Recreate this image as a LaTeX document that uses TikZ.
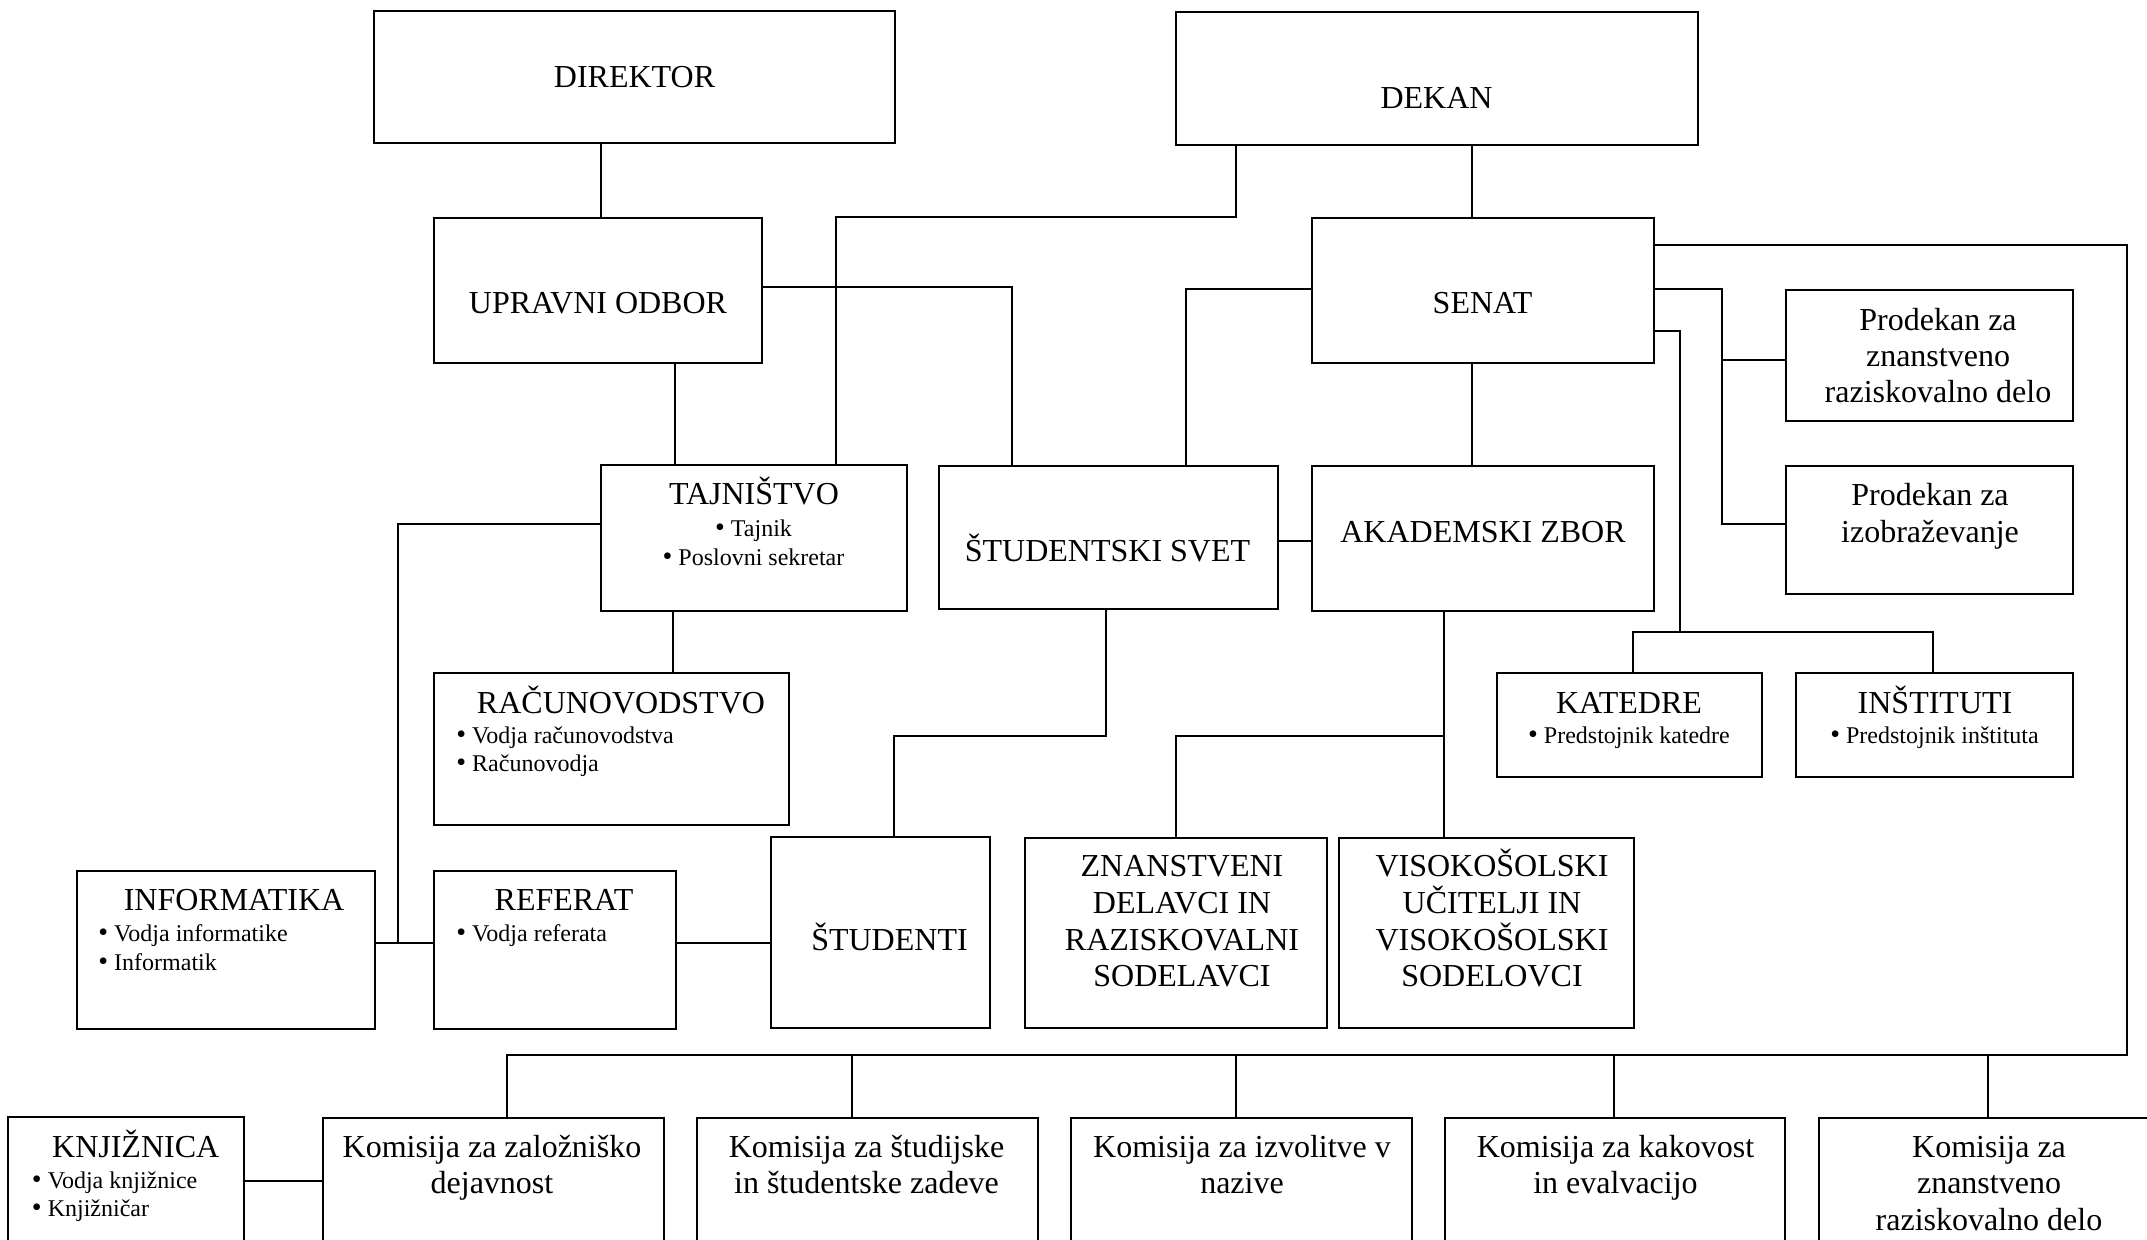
\documentclass[tikz,border=0pt]{standalone}
\usepackage{fontspec}
\setmainfont{Liberation Serif}
\usetikzlibrary{fit}
\tikzset{
 obx/.style={draw, line width=0.8pt, inner sep=0pt, outer sep=0pt},
 conn/.style={draw, line width=1pt},
 ttl/.style={anchor=base, inner sep=0pt, font=\fontsize{16}{18}\selectfont},
 itm/.style={anchor=base, inner sep=0pt, font=\fontsize{12}{14}\selectfont},
 itml/.style={itm, anchor=base west},
}
\newcommand\bul{{\fontsize{14}{14}\selectfont •}}
\begin{document}
\begin{tikzpicture}[x=0.5pt,y=-0.5pt]
\useasboundingbox (0,0) rectangle (2147,1239);
\clip (0,0) rectangle (2147,1239);
\fill[white] (0,0) rectangle (2147,1239);

% boxes
\node[obx, fit={(374,11)(895,143)}] (dir) {};
\node[obx, fit={(1176,12)(1698,145)}] (dek) {};
\node[obx, fit={(434,218)(762,363)}] (upr) {};
\node[obx, fit={(1312,218)(1654,363)}] (sen) {};
\node[obx, fit={(601,465)(907,611)}] (taj) {};
\node[obx, fit={(939,466)(1278,609)}] (ss) {};
\node[obx, fit={(1312,466)(1654,611)}] (az) {};
\node[obx, fit={(1786,290)(2073,421)}] (pd1) {};
\node[obx, fit={(1786,466)(2073,594)}] (pd2) {};
\node[obx, fit={(434,673)(789,825)}] (rac) {};
\node[obx, fit={(1497,673)(1762,777)}] (ka) {};
\node[obx, fit={(1796,673)(2073,777)}] (ins) {};
\node[obx, fit={(1025,838)(1327,1028)}] (zna) {};
\node[obx, fit={(1339,838)(1634,1028)}] (vis) {};
\node[obx, fit={(771,837)(990,1028)}] (stu) {};
\node[obx, fit={(77,871)(375,1029)}] (inf) {};
\node[obx, fit={(434,871)(676,1029)}] (ref) {};
\node[obx, fit={(8,1117)(244,1300)}] (knj) {};
\node[obx, fit={(323,1118)(664,1300)}] (k1) {};
\node[obx, fit={(697,1118)(1038,1300)}] (k2) {};
\node[obx, fit={(1071,1118)(1412,1300)}] (k3) {};
\node[obx, fit={(1445,1118)(1785,1300)}] (k4) {};
\node[obx, fit={(1819,1118)(2160,1300)}] (k5) {};

% texts
\node[ttl] (tdir) at (634.5,87.3) {DIREKTOR};
\node[ttl] (tdek) at (1436.5,108.7) {DEKAN};
\node[ttl] (tupr) at (598,313.3) {UPRAVNI ODBOR};
\node[ttl] (tsen) at (1482.5,313.3) {SENAT};
\node[ttl] (ttaj) at (754,504) {TAJNIŠTVO};
\node[itm] (ttaja) at (753.5,536) {\bul\ Tajnik};
\node[itm] (ttajb) at (753.5,565) {\bul\ Poslovni sekretar};
\node[ttl] (tss) at (1107.5,561) {ŠTUDENTSKI SVET};
\node[ttl] (taz) at (1483,542.7) {AKADEMSKI ZBOR};
\node[ttl] (tpd1a) at (1938,330) {Prodekan za};
\node[ttl] (tpd1b) at (1938,366.7) {znanstveno};
\node[ttl] (tpd1c) at (1938,402.7) {raziskovalno delo};
\node[ttl] (tpd2a) at (1930,505.7) {Prodekan za};
\node[ttl] (tpd2b) at (1930,542.3) {izobraževanje};
\node[ttl] (trac) at (621,713.3) {RAČUNOVODSTVO};
\node[itml] (traca) at (456,743.3) {\bul\ Vodja računovodstva};
\node[itml] (tracb) at (456,771.7) {\bul\ Računovodja};
\node[ttl] (tka) at (1629,713.3) {KATEDRE};
\node[itm] (tkaa) at (1629,743.3) {\bul\ Predstojnik katedre};
\node[ttl] (tins) at (1935,713.3) {INŠTITUTI};
\node[itm] (tinsa) at (1934.5,743.3) {\bul\ Predstojnik inštituta};
\node[ttl] (tznaa) at (1182,876.7) {ZNANSTVENI};
\node[ttl] (tznab) at (1182,913.3) {DELAVCI IN};
\node[ttl] (tznac) at (1182,950) {RAZISKOVALNI};
\node[ttl] (tznad) at (1182,986.7) {SODELAVCI};
\node[ttl] (tvisa) at (1492,876.7) {VISOKOŠOLSKI};
\node[ttl] (tvisb) at (1492,913.3) {UČITELJI IN};
\node[ttl] (tvisc) at (1492,950) {VISOKOŠOLSKI};
\node[ttl] (tvisd) at (1492,986.7) {SODELOVCI};
\node[ttl] (tstu) at (889.5,950.6) {ŠTUDENTI};
\node[ttl] (tinf) at (234,910.3) {INFORMATIKA};
\node[itml] (tinfa) at (98,941.5) {\bul\ Vodja informatike};
\node[itml] (tinfb) at (98,970.5) {\bul\ Informatik};
\node[ttl] (tref) at (564,910.3) {REFERAT};
\node[itml] (trefa) at (456,941.5) {\bul\ Vodja referata};
\node[ttl] (tknj) at (135.7,1157) {KNJIŽNICA};
\node[itml] (tknja) at (31.6,1188.3) {\bul\ Vodja knjižnice};
\node[itml] (tknjb) at (31.6,1216.7) {\bul\ Knjižničar};
\node[ttl] (tk1a) at (492,1157.3) {Komisija za založniško};
\node[ttl] (tk1b) at (492,1193.5) {dejavnost};
\node[ttl] (tk2a) at (866.5,1157.3) {Komisija za študijske};
\node[ttl] (tk2b) at (866.5,1193.5) {in študentske zadeve};
\node[ttl] (tk3a) at (1242,1157.3) {Komisija za izvolitve v};
\node[ttl] (tk3b) at (1242,1193.5) {nazive};
\node[ttl] (tk4a) at (1615.5,1157.3) {Komisija za kakovost};
\node[ttl] (tk4b) at (1615.5,1193.5) {in evalvacijo};
\node[ttl] (tk5a) at (1989,1157.3) {Komisija za};
\node[ttl] (tk5b) at (1989,1193.5) {znanstveno};
\node[ttl] (tk5c) at (1989,1230.2) {raziskovalno delo};

% connectors
\draw[conn] (601,0 |- dir.south) -- (601,0 |- upr.north);
\draw[conn] (1236,0 |- dek.south) |- (836,217) -- (836,0 |- taj.north);
\draw[conn] (1472,0 |- dek.south) -- (1472,0 |- sen.north);
\draw[conn] (upr.east |- 0,287) -| (1012,0 |- ss.north);
\draw[conn] (675,0 |- upr.south) -- (675,0 |- taj.north);
\draw[conn] (sen.west |- 0,289) -| (1186,0 |- ss.north);
\draw[conn] (sen.east |- 0,245) -| (2127,1055) -| (507,0 |- k1.north);
\draw[conn] (852,1055) -- (852,0 |- k2.north);
\draw[conn] (1236,1055) -- (1236,0 |- k3.north);
\draw[conn] (1614,1055) -- (1614,0 |- k4.north);
\draw[conn] (1988,1055) -- (1988,0 |- k5.north);
\draw[conn] (sen.east |- 0,289) -| (1722,524) -- (pd2.west |- 0,524);
\draw[conn] (1722,360) -- (pd1.west |- 0,360);
\draw[conn] (sen.east |- 0,331) -| (1680,632);
\draw[conn] (1633,0 |- ka.north) |- (1933,632) -- (1933,0 |- ins.north);
\draw[conn] (1472,0 |- sen.south) -- (1472,0 |- az.north);
\draw[conn] (ss.east |- 0,541) -- (az.west |- 0,541);
\draw[conn] (1106,0 |- ss.south) |- (894,736) -- (894,0 |- stu.north);
\draw[conn] (1444,0 |- az.south) -- (1444,0 |- vis.north);
\draw[conn] (1444,736) -| (1176,0 |- zna.north);
\draw[conn] (taj.west |- 0,524) -| (398,943);
\draw[conn] (inf.east |- 0,943) -- (ref.west |- 0,943);
\draw[conn] (673,0 |- taj.south) -- (673,0 |- rac.north);
\draw[conn] (ref.east |- 0,943) -- (stu.west |- 0,943);
\draw[conn] (knj.east |- 0,1181) -- (k1.west |- 0,1181);
\end{tikzpicture}
\end{document}
